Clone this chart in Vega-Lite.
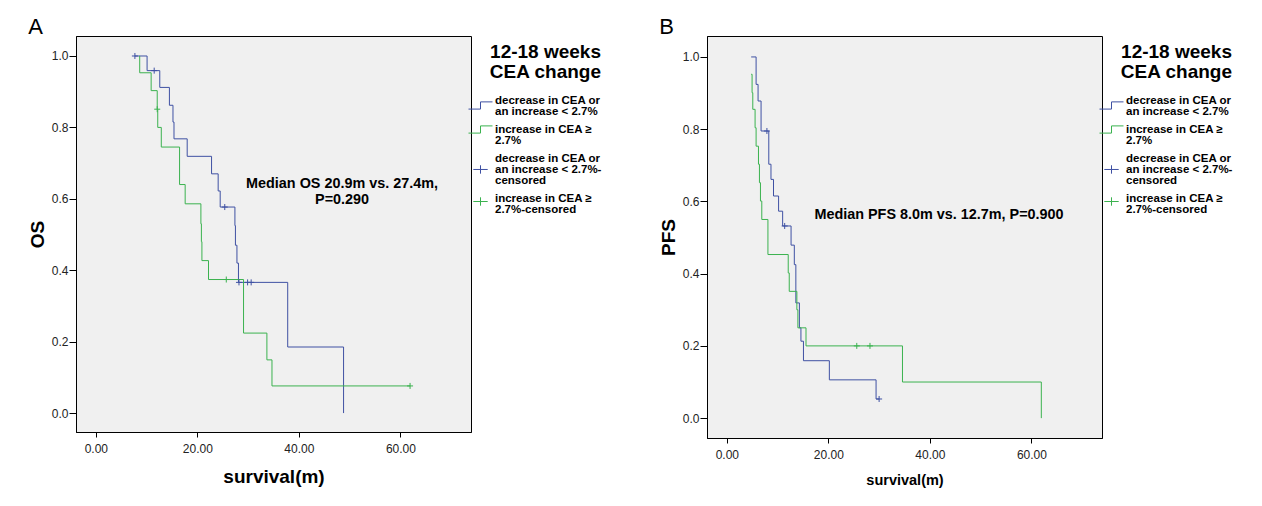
{
  "$schema": "https://vega.github.io/schema/vega-lite/v6.json",
  "padding": {"left": 27, "top": 15, "right": 5, "bottom": 5},
  "bounds": "flush",
  "spacing": 236,
  "datasets": {
    "lines": [
      {"p": "A", "g": "dec", "t": 7.7, "s": 1.0},
      {"p": "A", "g": "dec", "t": 10.1, "s": 0.959},
      {"p": "A", "g": "dec", "t": 12.6, "s": 0.912},
      {"p": "A", "g": "dec", "t": 14.5, "s": 0.862},
      {"p": "A", "g": "dec", "t": 15.2, "s": 0.815},
      {"p": "A", "g": "dec", "t": 15.4, "s": 0.768},
      {"p": "A", "g": "dec", "t": 18.0, "s": 0.719},
      {"p": "A", "g": "dec", "t": 22.8, "s": 0.670},
      {"p": "A", "g": "dec", "t": 24.1, "s": 0.622},
      {"p": "A", "g": "dec", "t": 24.5, "s": 0.577},
      {"p": "A", "g": "dec", "t": 27.4, "s": 0.525},
      {"p": "A", "g": "dec", "t": 27.5, "s": 0.470},
      {"p": "A", "g": "dec", "t": 27.8, "s": 0.420},
      {"p": "A", "g": "dec", "t": 28.1, "s": 0.366},
      {"p": "A", "g": "dec", "t": 37.8, "s": 0.185},
      {"p": "A", "g": "dec", "t": 48.8, "s": 0.0},
      {"p": "A", "g": "inc", "t": 8.6, "s": 1.0},
      {"p": "A", "g": "inc", "t": 8.65, "s": 0.953},
      {"p": "A", "g": "inc", "t": 10.9, "s": 0.903},
      {"p": "A", "g": "inc", "t": 12.1, "s": 0.851},
      {"p": "A", "g": "inc", "t": 12.2, "s": 0.800},
      {"p": "A", "g": "inc", "t": 12.9, "s": 0.745},
      {"p": "A", "g": "inc", "t": 16.5, "s": 0.640},
      {"p": "A", "g": "inc", "t": 17.6, "s": 0.586},
      {"p": "A", "g": "inc", "t": 20.7, "s": 0.530},
      {"p": "A", "g": "inc", "t": 20.8, "s": 0.480},
      {"p": "A", "g": "inc", "t": 20.9, "s": 0.427},
      {"p": "A", "g": "inc", "t": 22.2, "s": 0.374},
      {"p": "A", "g": "inc", "t": 29.1, "s": 0.224},
      {"p": "A", "g": "inc", "t": 33.7, "s": 0.149},
      {"p": "A", "g": "inc", "t": 34.7, "s": 0.076},
      {"p": "A", "g": "inc", "t": 61.9, "s": 0.076},
      {"p": "B", "g": "dec", "t": 4.8, "s": 1.0},
      {"p": "B", "g": "dec", "t": 5.77, "s": 0.924},
      {"p": "B", "g": "dec", "t": 6.16, "s": 0.878},
      {"p": "B", "g": "dec", "t": 6.75, "s": 0.795},
      {"p": "B", "g": "dec", "t": 8.27, "s": 0.703},
      {"p": "B", "g": "dec", "t": 8.7, "s": 0.661},
      {"p": "B", "g": "dec", "t": 9.2, "s": 0.615},
      {"p": "B", "g": "dec", "t": 10.2, "s": 0.573},
      {"p": "B", "g": "dec", "t": 11.0, "s": 0.532},
      {"p": "B", "g": "dec", "t": 12.66, "s": 0.479},
      {"p": "B", "g": "dec", "t": 13.3, "s": 0.425},
      {"p": "B", "g": "dec", "t": 13.6, "s": 0.319},
      {"p": "B", "g": "dec", "t": 14.3, "s": 0.250},
      {"p": "B", "g": "dec", "t": 14.6, "s": 0.213},
      {"p": "B", "g": "dec", "t": 15.1, "s": 0.159},
      {"p": "B", "g": "dec", "t": 20.2, "s": 0.106},
      {"p": "B", "g": "dec", "t": 29.4, "s": 0.053},
      {"p": "B", "g": "dec", "t": 30.0, "s": 0.053},
      {"p": "B", "g": "inc", "t": 4.8, "s": 0.952},
      {"p": "B", "g": "inc", "t": 4.98, "s": 0.901},
      {"p": "B", "g": "inc", "t": 5.12, "s": 0.855},
      {"p": "B", "g": "inc", "t": 5.57, "s": 0.804},
      {"p": "B", "g": "inc", "t": 5.77, "s": 0.753},
      {"p": "B", "g": "inc", "t": 6.24, "s": 0.703},
      {"p": "B", "g": "inc", "t": 6.43, "s": 0.652},
      {"p": "B", "g": "inc", "t": 6.63, "s": 0.601},
      {"p": "B", "g": "inc", "t": 6.89, "s": 0.550},
      {"p": "B", "g": "inc", "t": 8.1, "s": 0.453},
      {"p": "B", "g": "inc", "t": 12.1, "s": 0.402},
      {"p": "B", "g": "inc", "t": 12.3, "s": 0.351},
      {"p": "B", "g": "inc", "t": 13.8, "s": 0.300},
      {"p": "B", "g": "inc", "t": 14.0, "s": 0.250},
      {"p": "B", "g": "inc", "t": 15.6, "s": 0.200},
      {"p": "B", "g": "inc", "t": 34.6, "s": 0.100},
      {"p": "B", "g": "inc", "t": 61.9, "s": 0.100},
      {"p": "B", "g": "inc", "t": 61.95, "s": 0.0}
    ],
    "cens": [
      {"p": "A", "g": "dec-censored", "t": 7.7, "s": 1.0},
      {"p": "A", "g": "dec-censored", "t": 11.5, "s": 0.959},
      {"p": "A", "g": "dec-censored", "t": 25.4, "s": 0.577},
      {"p": "A", "g": "dec-censored", "t": 28.2, "s": 0.366},
      {"p": "A", "g": "dec-censored", "t": 29.9, "s": 0.366},
      {"p": "A", "g": "dec-censored", "t": 30.6, "s": 0.366},
      {"p": "A", "g": "inc-censored", "t": 12.1, "s": 0.851},
      {"p": "A", "g": "inc-censored", "t": 25.7, "s": 0.374},
      {"p": "A", "g": "inc-censored", "t": 61.9, "s": 0.076},
      {"p": "B", "g": "dec-censored", "t": 7.9, "s": 0.795},
      {"p": "B", "g": "dec-censored", "t": 11.4, "s": 0.532},
      {"p": "B", "g": "dec-censored", "t": 30.0, "s": 0.053},
      {"p": "B", "g": "inc-censored", "t": 25.6, "s": 0.200},
      {"p": "B", "g": "inc-censored", "t": 28.2, "s": 0.200}
    ],
    "notes": [
      {"p": "A", "t": 48.5, "s": 0.641, "label": "Median OS 20.9m vs. 27.4m,|P=0.290"},
      {"p": "B", "t": 41.8, "s": 0.562, "label": "Median PFS 8.0m vs. 12.7m, P=0.900"}
    ]
  },
  "hconcat": [
    {
      "title": {"text": "A"},
      "width": 395,
      "height": 396,
      "layer": [
        {
          "data": {"name": "lines"},
          "transform": [{"filter": "datum.p == 'A'"}],
          "mark": {"type": "line", "interpolate": "step-after", "strokeWidth": 1},
          "encoding": {
            "x": {"field": "t", "type": "quantitative", "scale": {"domain": [-3.9, 73.9], "nice": false, "zero": false},
              "axis": {"values": [0, 20, 40, 60], "format": ".2f", "title": "survival(m)", "titleFontSize": 19}},
            "y": {"field": "s", "type": "quantitative", "scale": {"domain": [-0.053, 1.056], "nice": false, "zero": false},
              "axis": {"values": [0, 0.2, 0.4, 0.6, 0.8, 1.0], "format": ".1f", "title": "OS", "titleFontSize": 19}},
            "order": [{"field": "t"}, {"field": "s", "sort": "descending"}],
            "color": {"field": "g", "type": "nominal",
              "scale": {"domain": ["dec", "inc", "dec-censored", "inc-censored"], "range": ["#3f51a3", "#3bb24f", "#3f51a3", "#3bb24f"]},
              "legend": {
                "orient": "none", "legendX": 392, "legendY": 7, "padding": 0,
                "title": ["12-18 weeks", "CEA change"],
                "titleFontSize": 19, "titleFontWeight": "bold", "titleLineHeight": 20, "titleAnchor": "end", "titleAlign": "right", "titlePadding": 12, "titleColor": "#000", "titleLimit": 300,
                "labelFontSize": 11.5, "labelFontWeight": "bold", "labelColor": "#000", "labelLimit": 300, "labelOffset": 14, "labelBaseline": "middle",
                "labelExpr": "{'dec': ['decrease in CEA or', 'an increase < 2.7%'], 'inc': ['increase in CEA ≥', '2.7%'], 'dec-censored': ['decrease in CEA or', 'an increase < 2.7%-', 'censored'], 'inc-censored': ['increase in CEA ≥', '2.7%-censored']}[datum.label]",
                "symbolSize": 144, "rowPadding": 6,
                "encode": {
                  "symbols": {"update": {
                    "shape": {"signal": "datum.value == 'dec' ? 'M-1,1.43H1V0.23H3' : datum.value == 'inc' ? 'M-1,0.6H1V-0.6H3' : datum.value == 'dec-censored' ? 'M-0.2,1.83H2.2M1,1.13V2.53' : 'M-0.2,0.5H2.2M1,-0.2V1.2'"},
                    "fill": {"value": "transparent"},
                    "strokeWidth": {"value": 1},
                    "opacity": {"value": 1}
                  }},
                  "labels": {"update": {"lineHeight": {"value": 11}}}
                }
              }
            }
          }
        },
        {
          "data": {"name": "cens"},
          "transform": [{"filter": "datum.p == 'A'"}],
          "mark": {"type": "point", "shape": "M-1,0H1M0,-1V1", "size": 36, "filled": false, "strokeWidth": 1, "opacity": 1},
          "encoding": {
            "x": {"field": "t", "type": "quantitative"},
            "y": {"field": "s", "type": "quantitative"},
            "color": {"field": "g", "type": "nominal", "legend": null}
          }
        },
        {
          "mark": {"type": "rule", "color": "#e8606a", "strokeDash": [3, 2], "strokeWidth": 1},
          "encoding": {"y": {"datum": 0.5}}
        },
        {
          "data": {"name": "notes"},
          "transform": [{"filter": "datum.p == 'A'"}],
          "mark": {"type": "text", "fontSize": 14.4, "fontWeight": "bold", "lineBreak": "|", "lineHeight": 16, "align": "center", "baseline": "middle", "color": "#000"},
          "encoding": {
            "x": {"field": "t", "type": "quantitative"},
            "y": {"field": "s", "type": "quantitative"},
            "text": {"field": "label"}
          }
        }
      ]
    },
    {
      "title": {"text": "B"},
      "width": 395,
      "height": 402,
      "layer": [
        {
          "data": {"name": "lines"},
          "transform": [{"filter": "datum.p == 'B'"}],
          "mark": {"type": "line", "interpolate": "step-after", "strokeWidth": 1},
          "encoding": {
            "x": {"field": "t", "type": "quantitative", "scale": {"domain": [-3.9, 73.9], "nice": false, "zero": false},
              "axis": {"values": [0, 20, 40, 60], "format": ".2f", "title": "survival(m)", "titleFontSize": 14.5}},
            "y": {"field": "s", "type": "quantitative", "scale": {"domain": [-0.055, 1.058], "nice": false, "zero": false},
              "axis": {"values": [0, 0.2, 0.4, 0.6, 0.8, 1.0], "format": ".1f", "title": "PFS", "titleFontSize": 19}},
            "order": [{"field": "t"}, {"field": "s", "sort": "descending"}],
            "color": {"field": "g", "type": "nominal",
              "scale": {"domain": ["dec", "inc", "dec-censored", "inc-censored"], "range": ["#3f51a3", "#3bb24f", "#3f51a3", "#3bb24f"]},
              "legend": {
                "orient": "none", "legendX": 392, "legendY": 7, "padding": 0,
                "title": ["12-18 weeks", "CEA change"],
                "titleFontSize": 19, "titleFontWeight": "bold", "titleLineHeight": 20, "titleAnchor": "end", "titleAlign": "right", "titlePadding": 12, "titleColor": "#000", "titleLimit": 300,
                "labelFontSize": 11.5, "labelFontWeight": "bold", "labelColor": "#000", "labelLimit": 300, "labelOffset": 14, "labelBaseline": "middle",
                "labelExpr": "{'dec': ['decrease in CEA or', 'an increase < 2.7%'], 'inc': ['increase in CEA ≥', '2.7%'], 'dec-censored': ['decrease in CEA or', 'an increase < 2.7%-', 'censored'], 'inc-censored': ['increase in CEA ≥', '2.7%-censored']}[datum.label]",
                "symbolSize": 144, "rowPadding": 6,
                "encode": {
                  "symbols": {"update": {
                    "shape": {"signal": "datum.value == 'dec' ? 'M-1,1.43H1V0.23H3' : datum.value == 'inc' ? 'M-1,0.6H1V-0.6H3' : datum.value == 'dec-censored' ? 'M-0.2,1.83H2.2M1,1.13V2.53' : 'M-0.2,0.5H2.2M1,-0.2V1.2'"},
                    "fill": {"value": "transparent"},
                    "strokeWidth": {"value": 1},
                    "opacity": {"value": 1}
                  }},
                  "labels": {"update": {"lineHeight": {"value": 11}}}
                }
              }
            }
          }
        },
        {
          "data": {"name": "cens"},
          "transform": [{"filter": "datum.p == 'B'"}],
          "mark": {"type": "point", "shape": "M-1,0H1M0,-1V1", "size": 36, "filled": false, "strokeWidth": 1, "opacity": 1},
          "encoding": {
            "x": {"field": "t", "type": "quantitative"},
            "y": {"field": "s", "type": "quantitative"},
            "color": {"field": "g", "type": "nominal", "legend": null}
          }
        },
        {
          "mark": {"type": "rule", "color": "#e8606a", "strokeDash": [3, 2], "strokeWidth": 1},
          "encoding": {"y": {"datum": 0.5}}
        },
        {
          "data": {"name": "notes"},
          "transform": [{"filter": "datum.p == 'B'"}],
          "mark": {"type": "text", "fontSize": 14.4, "fontWeight": "bold", "align": "center", "baseline": "middle", "color": "#000"},
          "encoding": {
            "x": {"field": "t", "type": "quantitative"},
            "y": {"field": "s", "type": "quantitative"},
            "text": {"field": "label"}
          }
        }
      ]
    }
  ],
  "resolve": {"scale": {"color": "independent"}, "legend": {"color": "independent"}},
  "config": {
    "font": "Liberation Sans",
    "background": "#ffffff",
    "view": {"stroke": "#000000", "strokeWidth": 1, "fill": "#f0f0f0"},
    "title": {"anchor": "start", "frame": "bounds", "fontSize": 22, "fontWeight": "normal", "color": "#000", "offset": -3},
    "axis": {"grid": false, "domainColor": "#000", "tickColor": "#000", "labelColor": "#222", "labelFontSize": 12, "labelFont": "Liberation Sans", "titleFontWeight": "bold", "titleColor": "#000"},
    "axisX": {"tickSize": 5, "labelPadding": 6, "titlePadding": 13},
    "axisY": {"tickSize": 7, "labelPadding": 1, "titlePadding": 4}
  }
}
